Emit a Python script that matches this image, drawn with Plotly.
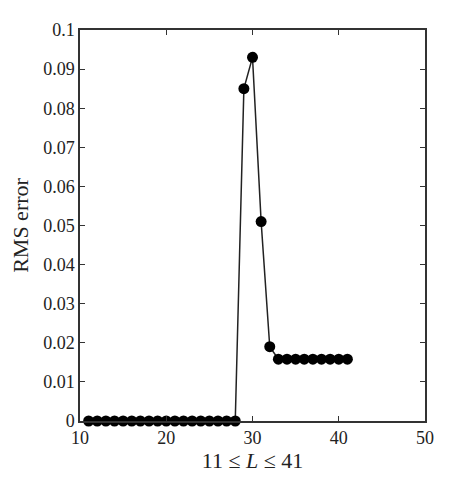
import plotly.graph_objects as go

# window lengths L and the RMS error for each
L_values = list(range(11, 42))
rms_error = [0.0] * 18 + [0.085, 0.093, 0.051, 0.019] + [0.0158] * 9

y_ticks = [0, 0.01, 0.02, 0.03, 0.04, 0.05, 0.06, 0.07, 0.08, 0.09, 0.1]
y_ticktext = ["0", "0.01", "0.02", "0.03", "0.04", "0.05", "0.06", "0.07", "0.08", "0.09", "0.1"]
x_ticks = [10, 20, 30, 40, 50]

fig = go.Figure()
fig.add_trace(go.Scatter(
    x=L_values, y=rms_error,
    mode="lines+markers",
    line=dict(color="#222222", width=1.5),
    marker=dict(color="black", size=11),
    cliponaxis=False,
))

axis_common = dict(
    showline=True, linecolor="#333333", linewidth=1.5, mirror="ticks",
    ticks="inside", ticklen=5, tickcolor="#333333", tickwidth=1,
    showgrid=False, zeroline=False,
)
fig.update_xaxes(range=[10, 50], tickvals=x_ticks,
                 title=dict(text="11 ≤ <i>L</i> ≤ 41", standoff=5), **axis_common)
fig.update_yaxes(range=[0, 0.1], tickvals=y_ticks, ticktext=y_ticktext,
                 title=dict(text="RMS error", standoff=8), **axis_common)

fig.update_layout(
    width=451, height=500,
    margin=dict(l=70, r=34, t=16, b=87),
    plot_bgcolor="white", paper_bgcolor="white",
    font=dict(family="Liberation Serif, DejaVu Serif, serif", size=18, color="#222222"),
    showlegend=False,
)

fig.write_html("out.html")
